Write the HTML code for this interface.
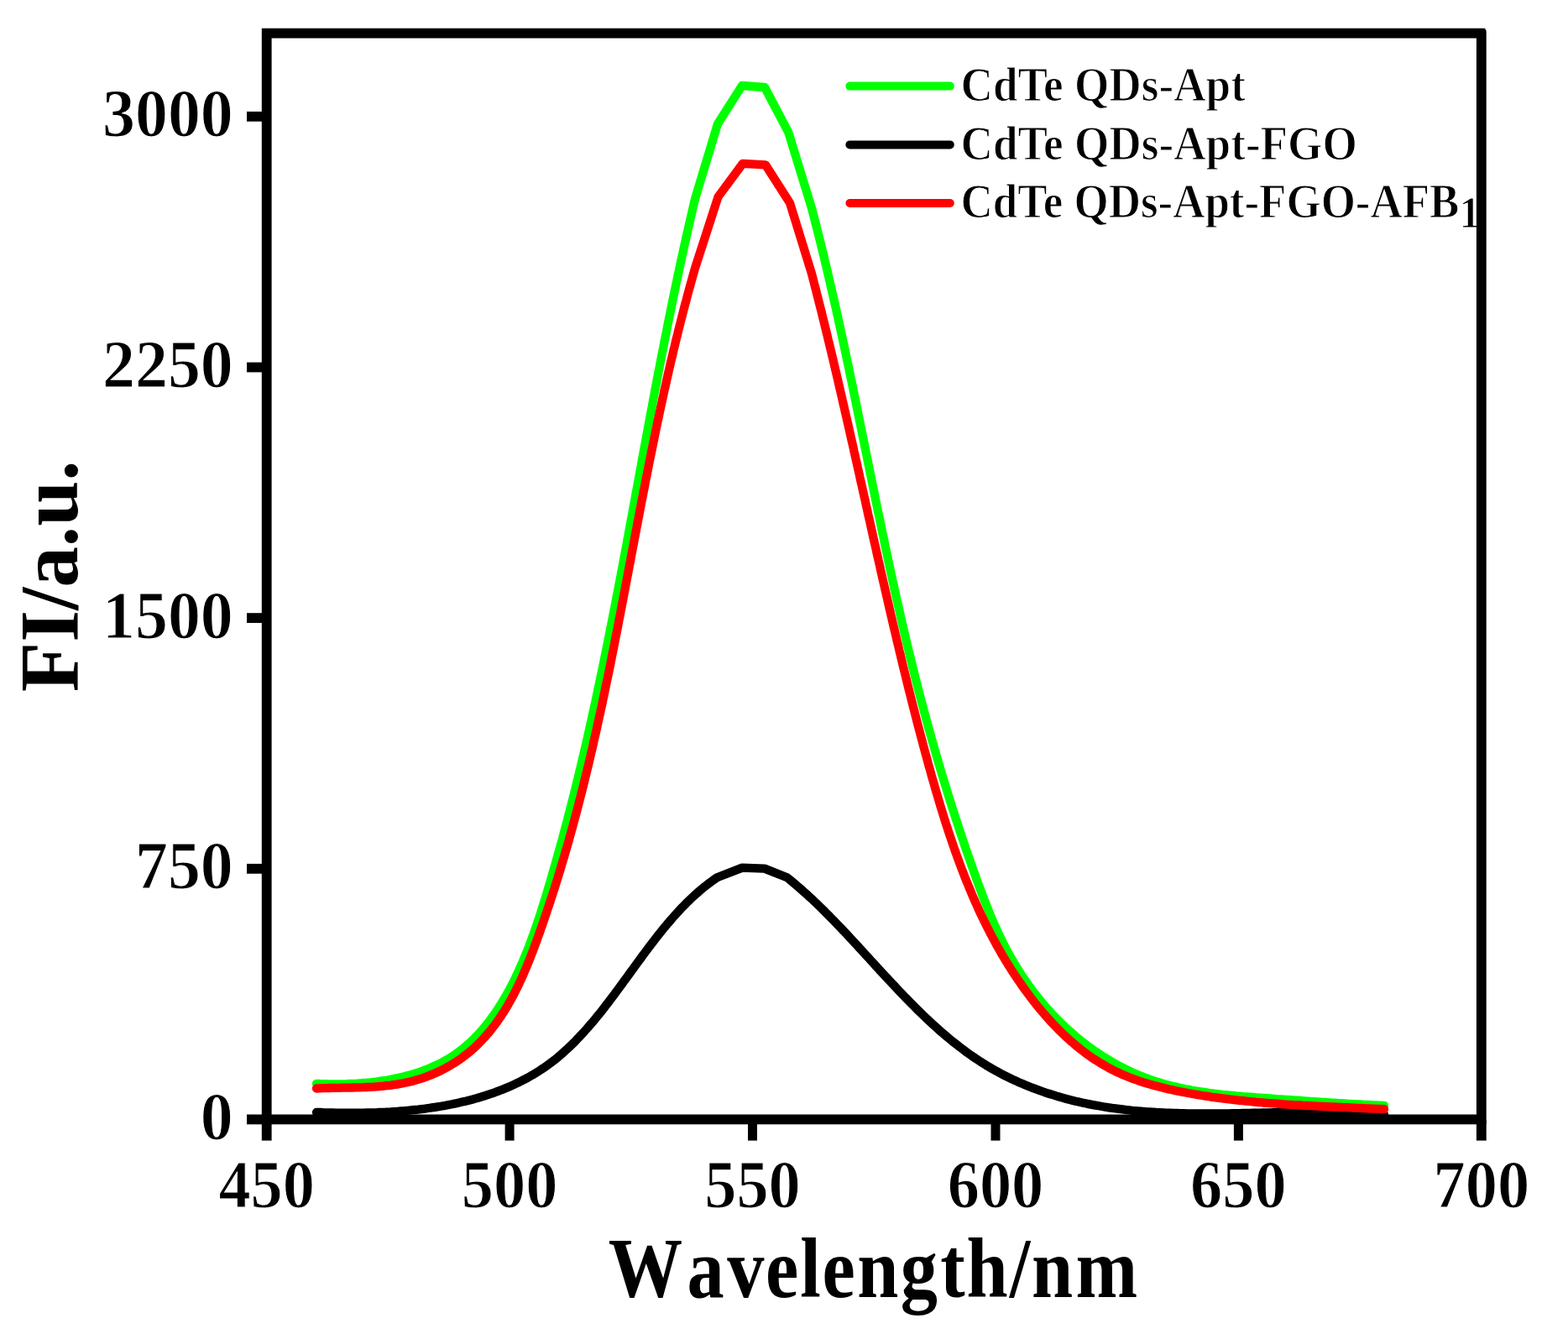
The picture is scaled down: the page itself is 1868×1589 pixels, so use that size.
<!DOCTYPE html>
<html><head><meta charset="utf-8"><title>FI spectra</title>
<style>
html,body{margin:0;padding:0;background:#fff;overflow:hidden;}
svg{display:block;}
text{font-family:"Liberation Serif","Times New Roman",serif;font-weight:bold;fill:#000;stroke:#fff;stroke-width:1.1px;paint-order:fill;}
</style></head><body>
<svg width="1868" height="1589" viewBox="0 0 1868 1589">
<rect width="1868" height="1589" fill="#fff"/>
<g fill="none" stroke-linejoin="round" stroke-linecap="round" stroke-width="10.3">
<polyline stroke="#000" points="377.0,1324.9 380.9,1325.0 384.8,1325.2 388.7,1325.3 392.6,1325.4 396.5,1325.5 400.5,1325.6 404.5,1325.6 408.4,1325.7 412.4,1325.7 416.5,1325.7 420.5,1325.7 424.5,1325.7 428.6,1325.7 432.6,1325.6 436.7,1325.5 440.8,1325.4 444.8,1325.3 448.9,1325.2 453.0,1325.0 457.1,1324.8 461.2,1324.6 465.3,1324.4 469.4,1324.1 473.5,1323.8 477.6,1323.5 481.7,1323.2 485.8,1322.8 489.9,1322.4 494.0,1322.0 498.1,1321.6 502.2,1321.1 506.3,1320.6 510.4,1320.0 514.5,1319.4 518.5,1318.8 522.6,1318.2 526.6,1317.5 530.7,1316.8 534.7,1316.0 538.7,1315.2 542.7,1314.4 546.7,1313.5 550.6,1312.6 554.6,1311.7 558.5,1310.7 562.4,1309.7 566.3,1308.6 570.2,1307.5 574.0,1306.3 577.9,1305.2 581.7,1303.9 585.5,1302.6 589.3,1301.3 593.0,1299.9 596.7,1298.5 600.4,1297.1 604.1,1295.5 607.7,1294.0 611.3,1292.4 614.9,1290.7 618.5,1289.0 622.0,1287.2 625.5,1285.4 628.9,1283.6 632.3,1281.6 635.7,1279.7 639.1,1277.6 642.4,1275.5 645.6,1273.4 648.9,1271.2 652.1,1269.0 655.2,1266.6 658.4,1264.3 661.4,1261.9 664.5,1259.4 667.5,1256.8 670.5,1254.3 673.4,1251.6 676.3,1249.0 679.2,1246.2 682.0,1243.5 684.9,1240.7 687.6,1237.8 690.4,1234.9 693.1,1232.0 695.9,1229.0 698.5,1226.0 701.2,1223.0 703.8,1219.9 706.5,1216.8 709.1,1213.7 711.6,1210.6 714.2,1207.4 716.8,1204.2 719.3,1201.0 721.8,1197.7 724.3,1194.5 726.8,1191.2 729.3,1187.9 731.8,1184.6 734.2,1181.3 736.7,1178.0 739.1,1174.6 741.6,1171.3 744.0,1167.9 746.5,1164.6 748.9,1161.2 751.3,1157.9 753.8,1154.5 756.2,1151.2 758.7,1147.8 761.1,1144.5 763.6,1141.1 766.0,1137.8 768.5,1134.5 770.9,1131.2 773.4,1127.9 775.9,1124.6 778.4,1121.3 780.9,1118.1 783.5,1114.8 786.0,1111.6 788.5,1108.5 791.1,1105.3 793.7,1102.2 796.3,1099.1 799.0,1096.0 801.6,1093.0 804.3,1089.9 807.0,1087.0 809.7,1084.0 812.4,1081.1 815.2,1078.3 818.0,1075.4 820.8,1072.7 823.7,1069.9 826.6,1067.2 829.5,1064.6 832.5,1062.0 835.5,1059.4 838.5,1056.9 841.6,1054.5 844.7,1052.1 847.8,1049.8 851.0,1047.5 854.2,1045.3 854.2,1045.3 884.2,1033.6 910.9,1034.6 937.7,1045.3 940.8,1047.7 943.8,1050.2 946.8,1052.7 949.8,1055.3 952.7,1057.9 955.7,1060.5 958.6,1063.1 961.6,1065.7 964.5,1068.4 967.4,1071.1 970.3,1073.9 973.2,1076.6 976.1,1079.4 978.9,1082.2 981.8,1085.0 984.6,1087.8 987.4,1090.7 990.3,1093.6 993.1,1096.4 995.9,1099.3 998.7,1102.3 1001.5,1105.2 1004.3,1108.1 1007.1,1111.1 1009.9,1114.1 1012.6,1117.0 1015.4,1120.0 1018.2,1123.0 1021.0,1126.0 1023.7,1129.0 1026.5,1132.0 1029.3,1135.1 1032.0,1138.1 1034.8,1141.1 1037.5,1144.1 1040.3,1147.1 1043.1,1150.2 1045.9,1153.2 1048.6,1156.2 1051.4,1159.2 1054.2,1162.2 1057.0,1165.3 1059.8,1168.3 1062.6,1171.3 1065.4,1174.2 1068.2,1177.2 1071.0,1180.2 1073.8,1183.1 1076.6,1186.1 1079.5,1189.0 1082.3,1191.9 1085.2,1194.9 1088.0,1197.7 1090.9,1200.6 1093.8,1203.5 1096.7,1206.3 1099.6,1209.1 1102.6,1211.9 1105.5,1214.7 1108.5,1217.5 1111.4,1220.2 1114.4,1222.9 1117.4,1225.6 1120.4,1228.3 1123.4,1230.9 1126.5,1233.5 1129.6,1236.1 1132.6,1238.6 1135.7,1241.2 1138.9,1243.6 1142.0,1246.1 1145.2,1248.5 1148.4,1250.9 1151.6,1253.3 1154.8,1255.6 1158.0,1257.9 1161.3,1260.1 1164.6,1262.3 1167.9,1264.5 1171.3,1266.6 1174.6,1268.7 1178.0,1270.7 1181.4,1272.7 1184.9,1274.7 1188.3,1276.6 1191.8,1278.5 1195.3,1280.3 1198.9,1282.1 1202.4,1283.8 1206.0,1285.6 1209.6,1287.2 1213.2,1288.9 1216.9,1290.4 1220.5,1292.0 1224.2,1293.5 1227.9,1295.0 1231.6,1296.4 1235.3,1297.8 1239.1,1299.2 1242.9,1300.5 1246.6,1301.8 1250.4,1303.0 1254.3,1304.2 1258.1,1305.4 1261.9,1306.5 1265.8,1307.6 1269.6,1308.7 1273.5,1309.7 1277.4,1310.7 1281.3,1311.7 1285.2,1312.6 1289.2,1313.5 1293.1,1314.3 1297.0,1315.1 1301.0,1315.9 1305.0,1316.6 1308.9,1317.3 1312.9,1318.0 1316.9,1318.7 1320.9,1319.3 1324.9,1319.9 1328.9,1320.4 1333.0,1320.9 1337.0,1321.4 1341.0,1321.9 1345.1,1322.3 1349.1,1322.8 1353.2,1323.1 1357.2,1323.5 1361.3,1323.8 1365.4,1324.2 1369.4,1324.4 1373.5,1324.7 1377.6,1325.0 1381.7,1325.2 1385.8,1325.4 1389.9,1325.6 1394.0,1325.7 1398.1,1325.9 1402.2,1326.0 1406.3,1326.1 1410.4,1326.2 1414.5,1326.3 1418.7,1326.4 1422.8,1326.4 1426.9,1326.4 1431.0,1326.5 1435.2,1326.5 1439.3,1326.5 1443.4,1326.5 1447.5,1326.5 1451.7,1326.4 1455.8,1326.4 1459.9,1326.3 1464.0,1326.3 1468.2,1326.2 1472.3,1326.2 1476.4,1326.1 1480.5,1326.0 1484.6,1325.9 1488.8,1325.8 1492.9,1325.7 1497.0,1325.7 1501.1,1325.6 1505.2,1325.5 1509.3,1325.4 1513.4,1325.3 1517.5,1325.2 1521.6,1325.1 1525.7,1325.0 1529.8,1324.9 1533.9,1324.9 1537.9,1324.8 1542.0,1324.7 1546.1,1324.7 1550.1,1324.6 1554.2,1324.6 1558.2,1324.5 1562.3,1324.5 1566.3,1324.5 1570.3,1324.5 1574.3,1324.5 1578.3,1324.5 1582.3,1324.5 1586.3,1324.6 1590.3,1324.6 1594.3,1324.7 1598.3,1324.8 1602.2,1324.9 1606.2,1325.0 1610.1,1325.1 1614.1,1325.2 1618.0,1325.4 1621.9,1325.6 1625.8,1325.8 1629.7,1326.0 1633.6,1326.3 1637.5,1326.6 1641.3,1326.8 1645.2,1327.2 1649.0,1327.5"/>
<polyline stroke="#00ff00" points="377.0,1290.8 380.9,1291.0 384.8,1291.1 388.7,1291.2 392.7,1291.3 396.7,1291.3 400.7,1291.3 404.7,1291.3 408.7,1291.3 412.8,1291.2 416.8,1291.0 420.9,1290.8 425.0,1290.6 429.1,1290.3 433.1,1290.0 437.2,1289.7 441.3,1289.3 445.4,1288.8 449.5,1288.3 453.5,1287.7 457.6,1287.1 461.6,1286.5 465.7,1285.7 469.7,1284.9 473.7,1284.1 477.6,1283.2 481.6,1282.3 485.5,1281.2 489.4,1280.1 493.3,1279.0 497.1,1277.8 500.9,1276.5 504.7,1275.1 508.4,1273.7 512.1,1272.2 515.8,1270.6 519.4,1269.0 522.9,1267.3 526.4,1265.5 529.9,1263.6 533.3,1261.7 536.7,1259.6 539.9,1257.5 543.2,1255.3 546.3,1253.0 549.5,1250.7 552.5,1248.2 555.5,1245.7 558.5,1243.1 561.3,1240.4 564.2,1237.7 566.9,1234.9 569.7,1232.1 572.3,1229.1 575.0,1226.1 577.5,1223.1 580.0,1220.0 582.5,1216.8 584.9,1213.6 587.3,1210.4 589.6,1207.1 591.9,1203.7 594.1,1200.3 596.3,1196.9 598.4,1193.4 600.5,1189.9 602.6,1186.4 604.6,1182.8 606.6,1179.2 608.5,1175.6 610.4,1171.9 612.2,1168.2 614.1,1164.5 615.8,1160.8 617.6,1157.1 619.3,1153.4 620.9,1149.6 622.6,1145.8 624.2,1142.0 625.7,1138.3 627.3,1134.5 628.8,1130.7 630.3,1126.9 631.7,1123.1 633.1,1119.3 634.5,1115.5 635.9,1111.7 637.2,1107.9 638.6,1104.1 639.9,1100.2 641.1,1096.4 642.4,1092.6 643.7,1088.8 644.9,1084.9 646.1,1081.1 647.3,1077.2 648.5,1073.4 649.7,1069.6 650.9,1065.7 652.0,1061.9 653.2,1058.0 654.3,1054.2 655.5,1050.3 656.6,1046.5 657.7,1042.6 658.8,1038.8 659.9,1034.9 661.1,1031.0 662.2,1027.2 663.2,1023.3 664.3,1019.5 665.4,1015.6 666.5,1011.7 667.6,1007.8 668.6,1004.0 669.7,1000.1 670.7,996.2 671.8,992.3 672.8,988.5 673.8,984.6 674.9,980.7 675.9,976.8 676.9,972.9 677.9,969.0 678.9,965.2 679.9,961.3 680.9,957.4 681.9,953.5 682.9,949.6 683.9,945.7 684.8,941.8 685.8,937.9 686.7,934.0 687.7,930.1 688.7,926.2 689.6,922.3 690.5,918.4 691.5,914.5 692.4,910.6 693.3,906.7 694.3,902.8 695.2,898.8 696.1,894.9 697.0,891.0 697.9,887.1 698.8,883.2 699.7,879.3 700.6,875.4 701.5,871.4 702.4,867.5 703.2,863.6 704.1,859.7 705.0,855.7 705.8,851.8 706.7,847.9 707.6,844.0 708.4,840.0 709.3,836.1 710.1,832.2 711.0,828.2 711.8,824.3 712.6,820.4 713.5,816.4 714.3,812.5 715.1,808.6 715.9,804.6 716.8,800.7 717.6,796.8 718.4,792.8 719.2,788.9 720.0,784.9 720.8,781.0 721.6,777.1 722.4,773.1 723.2,769.2 724.0,765.2 724.8,761.3 725.6,757.3 726.4,753.4 727.1,749.4 727.9,745.5 728.7,741.5 729.5,737.6 730.3,733.6 731.0,729.7 731.8,725.7 732.6,721.8 733.3,717.8 734.1,713.9 734.8,709.9 735.6,706.0 736.4,702.0 737.1,698.1 737.9,694.1 738.6,690.2 739.4,686.2 740.1,682.2 740.9,678.3 741.6,674.3 742.4,670.4 743.1,666.4 743.8,662.4 744.6,658.5 745.3,654.5 746.1,650.6 746.8,646.6 747.5,642.6 748.3,638.7 749.0,634.7 749.7,630.8 750.5,626.8 751.2,622.8 751.9,618.9 752.7,614.9 753.4,611.0 754.1,607.0 754.8,603.0 755.6,599.1 756.3,595.1 757.0,591.1 757.7,587.2 758.5,583.2 759.2,579.3 759.9,575.3 760.7,571.3 761.4,567.4 762.1,563.4 762.8,559.4 763.6,555.5 764.3,551.5 765.0,547.5 765.7,543.6 766.5,539.6 767.2,535.7 767.9,531.7 768.7,527.7 769.4,523.8 770.1,519.8 770.9,515.9 771.6,511.9 772.3,507.9 773.1,504.0 773.8,500.0 774.5,496.0 775.3,492.1 776.0,488.1 776.8,484.2 777.5,480.2 778.2,476.2 779.0,472.3 779.7,468.3 780.5,464.4 781.2,460.4 782.0,456.5 782.7,452.5 783.5,448.5 784.2,444.6 785.0,440.6 785.8,436.7 786.5,432.7 787.3,428.8 788.0,424.8 788.8,420.9 789.6,416.9 790.4,413.0 791.1,409.0 791.9,405.1 792.7,401.1 793.5,397.2 794.3,393.2 795.0,389.3 795.8,385.3 796.6,381.4 797.4,377.4 798.2,373.5 799.0,369.5 799.8,365.6 800.6,361.7 801.4,357.7 802.2,353.8 803.1,349.8 803.9,345.9 804.7,342.0 805.5,338.0 806.4,334.1 807.2,330.1 808.0,326.2 808.9,322.3 809.7,318.3 810.5,314.4 811.4,310.5 812.2,306.6 813.1,302.6 814.0,298.7 814.8,294.8 815.7,290.8 816.6,286.9 817.4,283.0 818.3,279.1 819.2,275.2 820.1,271.2 821.0,267.3 821.9,263.4 822.8,259.5 823.7,255.6 824.6,251.6 825.5,247.7 826.4,243.8 827.4,239.9 828.3,236.0 828.3,236.0 854.9,147.7 884.0,102.0 911.0,104.0 939.3,157.7 967.0,248.0 968.0,251.9 969.0,255.8 970.0,259.6 971.0,263.5 972.0,267.4 973.0,271.3 974.0,275.2 975.0,279.1 975.9,282.9 976.9,286.8 977.9,290.7 978.8,294.6 979.8,298.5 980.7,302.4 981.7,306.3 982.6,310.2 983.5,314.1 984.5,318.0 985.4,321.9 986.3,325.8 987.2,329.7 988.1,333.6 989.0,337.5 989.9,341.4 990.8,345.3 991.7,349.3 992.6,353.2 993.5,357.1 994.4,361.0 995.3,364.9 996.2,368.8 997.0,372.7 997.9,376.7 998.8,380.6 999.6,384.5 1000.5,388.4 1001.3,392.3 1002.2,396.3 1003.0,400.2 1003.9,404.1 1004.7,408.0 1005.6,412.0 1006.4,415.9 1007.2,419.8 1008.1,423.7 1008.9,427.7 1009.7,431.6 1010.6,435.5 1011.4,439.4 1012.2,443.4 1013.0,447.3 1013.8,451.2 1014.7,455.2 1015.5,459.1 1016.3,463.0 1017.1,467.0 1017.9,470.9 1018.7,474.8 1019.5,478.8 1020.3,482.7 1021.1,486.6 1021.9,490.6 1022.7,494.5 1023.5,498.5 1024.3,502.4 1025.1,506.3 1025.9,510.3 1026.7,514.2 1027.5,518.1 1028.3,522.1 1029.1,526.0 1029.9,529.9 1030.7,533.9 1031.5,537.8 1032.3,541.8 1033.1,545.7 1033.9,549.6 1034.7,553.6 1035.5,557.5 1036.3,561.4 1037.1,565.4 1037.9,569.3 1038.7,573.2 1039.5,577.2 1040.3,581.1 1041.1,585.1 1041.9,589.0 1042.7,592.9 1043.5,596.9 1044.3,600.8 1045.1,604.7 1045.9,608.7 1046.7,612.6 1047.6,616.5 1048.4,620.5 1049.2,624.4 1050.0,628.3 1050.8,632.2 1051.6,636.2 1052.5,640.1 1053.3,644.0 1054.1,648.0 1054.9,651.9 1055.8,655.8 1056.6,659.7 1057.4,663.7 1058.3,667.6 1059.1,671.5 1059.9,675.4 1060.8,679.4 1061.6,683.3 1062.5,687.2 1063.3,691.1 1064.2,695.0 1065.1,699.0 1065.9,702.9 1066.8,706.8 1067.7,710.7 1068.5,714.6 1069.4,718.5 1070.3,722.4 1071.2,726.4 1072.1,730.3 1072.9,734.2 1073.8,738.1 1074.7,742.0 1075.6,745.9 1076.6,749.8 1077.5,753.7 1078.4,757.6 1079.3,761.5 1080.2,765.4 1081.2,769.3 1082.1,773.2 1083.0,777.1 1084.0,781.0 1084.9,784.9 1085.9,788.7 1086.8,792.6 1087.8,796.5 1088.8,800.4 1089.7,804.3 1090.7,808.2 1091.7,812.1 1092.7,815.9 1093.7,819.8 1094.7,823.7 1095.7,827.6 1096.7,831.4 1097.7,835.3 1098.8,839.2 1099.8,843.0 1100.8,846.9 1101.9,850.8 1102.9,854.6 1104.0,858.5 1105.0,862.4 1106.1,866.2 1107.1,870.1 1108.2,873.9 1109.3,877.8 1110.4,881.7 1111.5,885.5 1112.6,889.4 1113.7,893.2 1114.8,897.1 1115.9,900.9 1117.0,904.7 1118.1,908.6 1119.3,912.4 1120.4,916.3 1121.5,920.1 1122.7,924.0 1123.8,927.8 1125.0,931.6 1126.2,935.5 1127.4,939.3 1128.5,943.1 1129.7,946.9 1130.9,950.8 1132.1,954.6 1133.3,958.4 1134.5,962.3 1135.8,966.1 1137.0,969.9 1138.2,973.7 1139.5,977.5 1140.7,981.3 1142.0,985.2 1143.2,989.0 1144.5,992.8 1145.7,996.6 1147.0,1000.4 1148.3,1004.2 1149.6,1008.0 1150.9,1011.8 1152.2,1015.6 1153.5,1019.4 1154.9,1023.2 1156.2,1027.0 1157.5,1030.8 1158.9,1034.6 1160.2,1038.4 1161.6,1042.2 1162.9,1046.0 1164.3,1049.8 1165.7,1053.6 1167.1,1057.4 1168.5,1061.1 1169.9,1064.9 1171.3,1068.7 1172.8,1072.4 1174.3,1076.2 1175.8,1079.9 1177.3,1083.7 1178.8,1087.4 1180.3,1091.1 1181.9,1094.8 1183.5,1098.5 1185.1,1102.2 1186.8,1105.8 1188.4,1109.5 1190.1,1113.1 1191.9,1116.8 1193.6,1120.4 1195.4,1124.0 1197.2,1127.5 1199.1,1131.1 1201.0,1134.6 1202.9,1138.1 1204.9,1141.6 1206.9,1145.1 1209.0,1148.6 1211.0,1152.0 1213.2,1155.4 1215.3,1158.8 1217.5,1162.2 1219.8,1165.5 1222.0,1168.8 1224.4,1172.1 1226.7,1175.4 1229.1,1178.6 1231.5,1181.8 1234.0,1185.0 1236.5,1188.2 1239.0,1191.3 1241.6,1194.4 1244.2,1197.5 1246.8,1200.5 1249.5,1203.5 1252.2,1206.4 1255.0,1209.4 1257.7,1212.3 1260.6,1215.1 1263.4,1218.0 1266.3,1220.8 1269.2,1223.5 1272.1,1226.2 1275.1,1228.9 1278.1,1231.5 1281.1,1234.1 1284.2,1236.7 1287.3,1239.2 1290.4,1241.7 1293.6,1244.1 1296.8,1246.5 1300.0,1248.9 1303.2,1251.2 1306.5,1253.4 1309.8,1255.6 1313.1,1257.8 1316.5,1259.9 1319.9,1262.0 1323.3,1264.0 1326.7,1266.0 1330.2,1268.0 1333.7,1269.8 1337.2,1271.7 1340.7,1273.4 1344.3,1275.2 1347.9,1276.8 1351.5,1278.5 1355.1,1280.0 1358.8,1281.5 1362.5,1283.0 1366.2,1284.4 1369.9,1285.8 1373.7,1287.0 1377.5,1288.3 1381.3,1289.5 1385.1,1290.6 1388.9,1291.7 1392.8,1292.7 1396.7,1293.7 1400.5,1294.6 1404.5,1295.5 1408.4,1296.4 1412.3,1297.2 1416.3,1297.9 1420.2,1298.7 1424.2,1299.4 1428.2,1300.0 1432.2,1300.6 1436.2,1301.2 1440.2,1301.8 1444.3,1302.3 1448.3,1302.8 1452.3,1303.3 1456.4,1303.8 1460.5,1304.2 1464.5,1304.6 1468.6,1305.0 1472.6,1305.4 1476.7,1305.7 1480.8,1306.1 1484.8,1306.4 1488.9,1306.7 1493.0,1307.0 1497.0,1307.3 1501.1,1307.6 1505.2,1307.9 1509.2,1308.2 1513.3,1308.5 1517.3,1308.8 1521.3,1309.1 1525.4,1309.3 1529.4,1309.6 1533.4,1309.9 1537.4,1310.2 1541.4,1310.5 1545.4,1310.7 1549.4,1311.0 1553.4,1311.3 1557.4,1311.6 1561.4,1311.9 1565.3,1312.1 1569.3,1312.4 1573.3,1312.7 1577.3,1312.9 1581.3,1313.2 1585.2,1313.5 1589.2,1313.7 1593.2,1314.0 1597.1,1314.2 1601.1,1314.4 1605.1,1314.7 1609.1,1314.9 1613.0,1315.1 1617.0,1315.3 1621.0,1315.5 1625.0,1315.8 1629.0,1315.9 1633.0,1316.1 1637.0,1316.3 1641.0,1316.5 1645.0,1316.6 1649.0,1316.8"/>
<polyline stroke="#ff0000" points="377.0,1296.5 380.9,1296.3 384.8,1296.2 388.7,1296.1 392.6,1296.0 396.6,1295.9 400.6,1295.9 404.5,1295.8 408.5,1295.7 412.5,1295.7 416.5,1295.6 420.5,1295.5 424.5,1295.4 428.6,1295.3 432.6,1295.2 436.6,1295.0 440.6,1294.8 444.7,1294.6 448.7,1294.3 452.7,1294.0 456.8,1293.7 460.8,1293.2 464.8,1292.8 468.8,1292.2 472.8,1291.6 476.8,1290.9 480.8,1290.2 484.8,1289.3 488.8,1288.4 492.7,1287.4 496.6,1286.3 500.6,1285.1 504.5,1283.8 508.4,1282.4 512.2,1280.9 516.1,1279.4 519.8,1277.7 523.6,1276.0 527.3,1274.2 530.9,1272.3 534.5,1270.3 538.0,1268.2 541.4,1266.1 544.8,1263.9 548.1,1261.7 551.4,1259.3 554.5,1256.9 557.6,1254.5 560.6,1252.0 563.6,1249.4 566.5,1246.7 569.3,1244.1 572.0,1241.3 574.7,1238.5 577.4,1235.6 579.9,1232.7 582.5,1229.8 584.9,1226.8 587.3,1223.7 589.7,1220.6 592.0,1217.4 594.2,1214.2 596.4,1211.0 598.6,1207.7 600.7,1204.4 602.8,1201.1 604.8,1197.7 606.7,1194.3 608.7,1190.8 610.6,1187.3 612.4,1183.8 614.2,1180.2 616.0,1176.7 617.8,1173.0 619.5,1169.4 621.2,1165.8 622.8,1162.1 624.4,1158.4 626.0,1154.7 627.6,1150.9 629.1,1147.2 630.7,1143.4 632.1,1139.6 633.6,1135.9 635.1,1132.1 636.5,1128.2 637.9,1124.4 639.3,1120.6 640.7,1116.8 642.1,1112.9 643.5,1109.1 644.8,1105.2 646.2,1101.4 647.5,1097.6 648.8,1093.7 650.1,1089.9 651.4,1086.0 652.7,1082.2 654.0,1078.3 655.3,1074.5 656.5,1070.6 657.8,1066.8 659.0,1062.9 660.3,1059.1 661.5,1055.2 662.7,1051.3 663.9,1047.5 665.1,1043.6 666.3,1039.7 667.5,1035.9 668.6,1032.0 669.8,1028.1 670.9,1024.3 672.1,1020.4 673.2,1016.5 674.3,1012.6 675.5,1008.8 676.6,1004.9 677.7,1001.0 678.7,997.1 679.8,993.3 680.9,989.4 682.0,985.5 683.0,981.6 684.1,977.7 685.1,973.8 686.2,969.9 687.2,966.1 688.2,962.2 689.2,958.3 690.2,954.4 691.2,950.5 692.2,946.6 693.2,942.7 694.2,938.8 695.2,934.9 696.1,931.0 697.1,927.1 698.0,923.2 699.0,919.3 699.9,915.4 700.9,911.5 701.8,907.6 702.7,903.7 703.6,899.8 704.5,895.9 705.5,892.0 706.4,888.0 707.2,884.1 708.1,880.2 709.0,876.3 709.9,872.4 710.8,868.5 711.6,864.6 712.5,860.7 713.4,856.7 714.2,852.8 715.1,848.9 715.9,845.0 716.8,841.1 717.6,837.2 718.4,833.2 719.3,829.3 720.1,825.4 720.9,821.5 721.7,817.5 722.5,813.6 723.4,809.7 724.2,805.8 725.0,801.9 725.8,797.9 726.6,794.0 727.4,790.1 728.2,786.1 728.9,782.2 729.7,778.3 730.5,774.4 731.3,770.4 732.1,766.5 732.8,762.6 733.6,758.6 734.4,754.7 735.2,750.8 735.9,746.9 736.7,742.9 737.4,739.0 738.2,735.1 739.0,731.1 739.7,727.2 740.5,723.3 741.2,719.3 742.0,715.4 742.7,711.5 743.5,707.5 744.2,703.6 745.0,699.7 745.7,695.7 746.5,691.8 747.2,687.9 748.0,683.9 748.7,680.0 749.5,676.0 750.2,672.1 751.0,668.2 751.7,664.2 752.4,660.3 753.2,656.4 753.9,652.4 754.7,648.5 755.4,644.6 756.2,640.6 756.9,636.7 757.7,632.8 758.4,628.8 759.2,624.9 759.9,620.9 760.7,617.0 761.4,613.1 762.2,609.1 762.9,605.2 763.7,601.3 764.4,597.3 765.2,593.4 766.0,589.5 766.7,585.5 767.5,581.6 768.3,577.7 769.0,573.7 769.8,569.8 770.6,565.9 771.4,561.9 772.1,558.0 772.9,554.1 773.7,550.1 774.5,546.2 775.3,542.3 776.1,538.3 776.9,534.4 777.7,530.5 778.5,526.5 779.3,522.6 780.1,518.7 780.9,514.8 781.7,510.8 782.5,506.9 783.3,503.0 784.2,499.0 785.0,495.1 785.8,491.2 786.7,487.3 787.5,483.3 788.4,479.4 789.2,475.5 790.1,471.6 790.9,467.7 791.8,463.7 792.7,459.8 793.6,455.9 794.4,452.0 795.3,448.1 796.2,444.1 797.1,440.2 798.0,436.3 798.9,432.4 799.8,428.5 800.8,424.6 801.7,420.6 802.6,416.7 803.6,412.8 804.5,408.9 805.4,405.0 806.4,401.1 807.4,397.2 808.3,393.3 809.3,389.4 810.3,385.5 811.3,381.5 812.3,377.6 813.3,373.7 814.3,369.8 815.3,365.9 816.3,362.0 817.4,358.1 818.4,354.2 819.4,350.3 820.5,346.4 821.6,342.5 822.6,338.7 823.7,334.8 824.8,330.9 825.9,327.0 827.0,323.1 828.1,319.2 828.1,319.2 855.5,234.5 884.8,194.9 912.0,196.4 941.0,241.7 967.0,326.0 968.0,329.9 969.0,333.8 970.0,337.7 971.0,341.6 972.1,345.6 973.0,349.5 974.0,353.4 975.0,357.3 976.0,361.2 977.0,365.1 978.0,369.0 979.0,372.9 979.9,376.8 980.9,380.8 981.9,384.7 982.8,388.6 983.8,392.5 984.7,396.4 985.7,400.3 986.6,404.2 987.6,408.1 988.5,412.1 989.5,416.0 990.4,419.9 991.3,423.8 992.3,427.7 993.2,431.6 994.1,435.5 995.0,439.4 996.0,443.4 996.9,447.3 997.8,451.2 998.7,455.1 999.6,459.0 1000.5,462.9 1001.4,466.8 1002.3,470.7 1003.2,474.7 1004.1,478.6 1005.0,482.5 1005.9,486.4 1006.8,490.3 1007.7,494.2 1008.6,498.1 1009.5,502.0 1010.4,506.0 1011.3,509.9 1012.2,513.8 1013.0,517.7 1013.9,521.6 1014.8,525.5 1015.7,529.4 1016.6,533.3 1017.4,537.3 1018.3,541.2 1019.2,545.1 1020.1,549.0 1021.0,552.9 1021.8,556.8 1022.7,560.7 1023.6,564.6 1024.4,568.6 1025.3,572.5 1026.2,576.4 1027.1,580.3 1027.9,584.2 1028.8,588.1 1029.7,592.0 1030.6,595.9 1031.4,599.8 1032.3,603.8 1033.2,607.7 1034.0,611.6 1034.9,615.5 1035.8,619.4 1036.7,623.3 1037.5,627.2 1038.4,631.1 1039.3,635.0 1040.1,639.0 1041.0,642.9 1041.9,646.8 1042.8,650.7 1043.7,654.6 1044.5,658.5 1045.4,662.4 1046.3,666.3 1047.2,670.2 1048.1,674.1 1048.9,678.1 1049.8,682.0 1050.7,685.9 1051.6,689.8 1052.5,693.7 1053.4,697.6 1054.3,701.5 1055.2,705.4 1056.1,709.3 1057.0,713.2 1057.9,717.1 1058.8,721.0 1059.7,725.0 1060.6,728.9 1061.5,732.8 1062.4,736.7 1063.3,740.6 1064.2,744.5 1065.1,748.4 1066.1,752.3 1067.0,756.2 1067.9,760.1 1068.8,764.0 1069.8,767.9 1070.7,771.8 1071.6,775.7 1072.6,779.6 1073.5,783.5 1074.4,787.4 1075.4,791.4 1076.3,795.3 1077.3,799.2 1078.3,803.1 1079.2,807.0 1080.2,810.9 1081.1,814.8 1082.1,818.7 1083.1,822.6 1084.1,826.5 1085.0,830.4 1086.0,834.3 1087.0,838.2 1088.0,842.1 1089.0,846.0 1090.0,849.9 1091.0,853.8 1092.0,857.7 1093.0,861.6 1094.0,865.5 1095.1,869.4 1096.1,873.3 1097.1,877.2 1098.2,881.1 1099.2,885.0 1100.2,888.9 1101.3,892.8 1102.3,896.7 1103.4,900.6 1104.5,904.5 1105.5,908.4 1106.6,912.3 1107.7,916.2 1108.8,920.0 1109.8,923.9 1110.9,927.8 1112.1,931.7 1113.2,935.6 1114.3,939.5 1115.4,943.4 1116.6,947.2 1117.7,951.1 1118.9,955.0 1120.0,958.9 1121.2,962.7 1122.4,966.6 1123.6,970.5 1124.8,974.3 1126.0,978.2 1127.2,982.0 1128.5,985.8 1129.7,989.7 1131.0,993.5 1132.3,997.3 1133.6,1001.2 1134.9,1005.0 1136.2,1008.8 1137.5,1012.6 1138.9,1016.4 1140.2,1020.2 1141.6,1023.9 1143.0,1027.7 1144.4,1031.5 1145.8,1035.2 1147.3,1039.0 1148.7,1042.7 1150.2,1046.5 1151.7,1050.2 1153.2,1053.9 1154.7,1057.6 1156.3,1061.3 1157.8,1065.0 1159.4,1068.7 1161.0,1072.4 1162.6,1076.0 1164.3,1079.7 1165.9,1083.3 1167.6,1087.0 1169.3,1090.6 1171.1,1094.2 1172.8,1097.8 1174.6,1101.4 1176.4,1105.0 1178.2,1108.5 1180.0,1112.1 1181.9,1115.6 1183.8,1119.1 1185.7,1122.7 1187.6,1126.2 1189.6,1129.7 1191.5,1133.1 1193.5,1136.6 1195.6,1140.0 1197.6,1143.5 1199.7,1146.9 1201.8,1150.3 1204.0,1153.7 1206.1,1157.1 1208.3,1160.4 1210.5,1163.8 1212.8,1167.1 1215.1,1170.4 1217.4,1173.7 1219.7,1177.0 1222.1,1180.3 1224.5,1183.5 1226.9,1186.8 1229.3,1190.0 1231.8,1193.2 1234.3,1196.4 1236.9,1199.5 1239.5,1202.6 1242.1,1205.7 1244.7,1208.8 1247.4,1211.8 1250.1,1214.8 1252.8,1217.8 1255.6,1220.8 1258.4,1223.7 1261.2,1226.5 1264.1,1229.4 1266.9,1232.2 1269.9,1234.9 1272.8,1237.6 1275.8,1240.3 1278.9,1242.9 1281.9,1245.5 1285.0,1248.0 1288.1,1250.5 1291.3,1252.9 1294.5,1255.3 1297.7,1257.6 1301.0,1259.9 1304.3,1262.1 1307.6,1264.2 1311.0,1266.3 1314.4,1268.3 1317.8,1270.3 1321.3,1272.2 1324.8,1274.1 1328.3,1275.8 1331.9,1277.5 1335.5,1279.2 1339.1,1280.8 1342.8,1282.3 1346.5,1283.7 1350.2,1285.2 1354.0,1286.5 1357.8,1287.8 1361.6,1289.1 1365.4,1290.3 1369.3,1291.4 1373.1,1292.5 1377.0,1293.6 1380.9,1294.6 1384.8,1295.6 1388.8,1296.5 1392.7,1297.5 1396.7,1298.3 1400.6,1299.2 1404.6,1300.0 1408.6,1300.8 1412.6,1301.5 1416.5,1302.3 1420.5,1303.0 1424.5,1303.7 1428.5,1304.3 1432.5,1305.0 1436.5,1305.6 1440.5,1306.2 1444.5,1306.8 1448.5,1307.3 1452.5,1307.9 1456.5,1308.4 1460.5,1308.9 1464.5,1309.4 1468.5,1309.9 1472.6,1310.4 1476.6,1310.8 1480.6,1311.2 1484.6,1311.6 1488.6,1312.0 1492.6,1312.4 1496.6,1312.8 1500.7,1313.1 1504.7,1313.5 1508.7,1313.8 1512.7,1314.1 1516.7,1314.4 1520.7,1314.7 1524.8,1315.0 1528.8,1315.3 1532.8,1315.6 1536.8,1315.8 1540.8,1316.1 1544.9,1316.3 1548.9,1316.5 1552.9,1316.8 1556.9,1317.0 1560.9,1317.2 1564.9,1317.4 1569.0,1317.6 1573.0,1317.8 1577.0,1318.0 1581.0,1318.2 1585.0,1318.4 1589.0,1318.5 1593.0,1318.7 1597.0,1318.9 1601.0,1319.1 1605.0,1319.2 1609.1,1319.4 1613.1,1319.6 1617.1,1319.8 1621.1,1319.9 1625.1,1320.1 1629.0,1320.3 1633.0,1320.5 1637.0,1320.6 1641.0,1320.8 1645.0,1321.0 1649.0,1321.2"/>
</g>
<g font-size="80"><text transform="translate(317.7 1437.6) scale(0.955 1)" text-anchor="middle">450</text><text transform="translate(607.1 1437.6) scale(0.955 1)" text-anchor="middle">500</text><text transform="translate(896.5 1437.6) scale(0.955 1)" text-anchor="middle">550</text><text transform="translate(1186.0 1437.6) scale(0.955 1)" text-anchor="middle">600</text><text transform="translate(1475.4 1437.6) scale(0.955 1)" text-anchor="middle">650</text><text transform="translate(1764.8 1437.6) scale(0.955 1)" text-anchor="middle">700</text><text transform="translate(277.7 1357.0) scale(0.973 1)" text-anchor="end">0</text><text transform="translate(277.7 1058.3) scale(0.973 1)" text-anchor="end">750</text><text transform="translate(277.7 759.7) scale(0.973 1)" text-anchor="end">1500</text><text transform="translate(277.7 461.1) scale(0.973 1)" text-anchor="end">2250</text><text transform="translate(277.7 162.4) scale(0.973 1)" text-anchor="end">3000</text></g>
<text transform="translate(92.3 822.5) rotate(-90) scale(0.983 1)" x="-1.7" font-size="99" style="stroke:none">FI/a.u.</text>
<text transform="translate(0 1544.5) scale(0.875 1)" x="828.4 935.4 990.1 1042.3 1089.5 1119.3 1167.2 1225.9 1280.2 1316.0 1374.6 1404.6 1464.6" font-size="101" style="stroke:none">Wavelength/nm</text>
<g stroke-width="10" stroke-linecap="round">
<line x1="1012.4" y1="102.6" x2="1131.8" y2="102.6" stroke="#00ff00"/>
<line x1="1012.4" y1="172.4" x2="1131.8" y2="172.4" stroke="#000"/>
<line x1="1012.4" y1="242" x2="1131.8" y2="242" stroke="#ff0000"/>
</g>
<g font-size="56">
<text transform="translate(1144.5 120.1) scale(0.95 1)">CdTe QDs-Apt</text>
<text transform="translate(1144.5 189.7) scale(0.95 1)">CdTe QDs-Apt-FGO</text>
<text transform="translate(1144.5 258.8) scale(0.946 1)">CdTe QDs-Apt-FGO-AFB<tspan font-size="53" dy="12">1</tspan></text>
</g>
<g stroke="#000" stroke-width="11.8" fill="none">
<rect x="317.7" y="39.6" width="1447.1" height="1293.8"/>
<line x1="317.7" y1="1334" x2="317.7" y2="1358.6" stroke-width="11.8"/><line x1="607.1" y1="1334" x2="607.1" y2="1358.6" stroke-width="11.0"/><line x1="896.5" y1="1334" x2="896.5" y2="1358.6" stroke-width="11.0"/><line x1="1186.0" y1="1334" x2="1186.0" y2="1358.6" stroke-width="11.0"/><line x1="1475.4" y1="1334" x2="1475.4" y2="1358.6" stroke-width="11.0"/><line x1="1764.8" y1="1334" x2="1764.8" y2="1358.6" stroke-width="11.8"/><line x1="294" y1="1333.4" x2="318" y2="1333.4"/><line x1="294" y1="1034.8" x2="318" y2="1034.8"/><line x1="294" y1="736.1" x2="318" y2="736.1"/><line x1="294" y1="437.5" x2="318" y2="437.5"/><line x1="294" y1="138.8" x2="318" y2="138.8"/>
</g>
<path d="M1766.2 33.5 L1771 33.5 L1771 38.2 A4.5 4.5 0 0 0 1766.2 33.5 Z" fill="#fff"/>
</svg>
</body></html>
